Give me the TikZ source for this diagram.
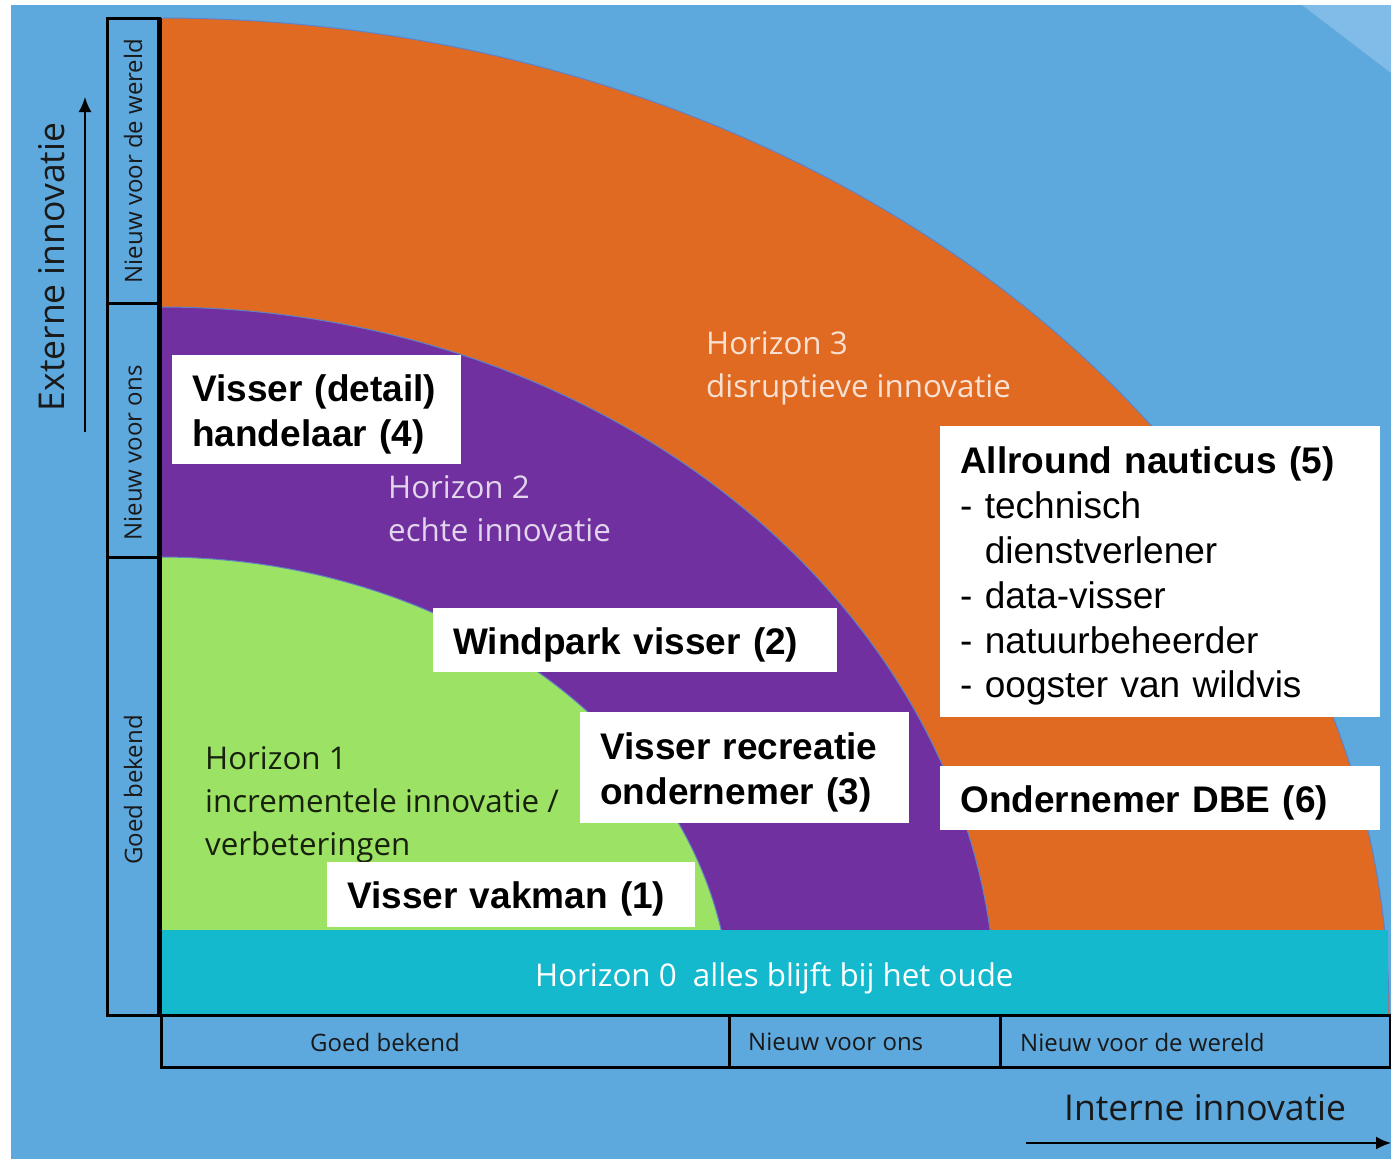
\documentclass[tikz,border=0pt]{standalone}
\usepackage{fontspec}
\setmainfont{Open Sans}
\newfontfamily\arialfont{Liberation Sans}
\usepackage{tikz}
\usetikzlibrary{arrows,arrows.meta}
\definecolor{skyblue}{HTML}{5DA8DC}
\definecolor{paleblue}{HTML}{80BCE7}
\definecolor{horange}{HTML}{E06A22}
\definecolor{hpurple}{HTML}{7030A0}
\definecolor{hgreen}{HTML}{9CE264}
\definecolor{hcyan}{HTML}{15B9CE}
\definecolor{rimblue}{HTML}{5F82C4}
\tikzset{
  horizon/.style=
  {
    draw=rimblue,
    line width=1pt
  },
  rolebox/.style=
  {
    fill=white,
    anchor=north west,
    align=left,
    inner xsep=20pt,
    inner ysep=0pt,
    execute at begin node={\rule{0pt}{36pt}},
    font=\arialfont\fontsize{37}{44.8}\selectfont
  },
  hlabel/.style=
  {
    anchor=base west,
    align=left,
    inner sep=0pt,
    font=\fontsize{31.3}{43}\selectfont
  },
  axisbox/.style=
  {
    draw=black,
    line width=3pt
  },
  axislabel/.style=
  {
    inner sep=0pt,
    text=black!90,
    font=\fontsize{24}{28}\selectfont
  },
  axistitle/.style=
  {
    inner sep=0pt,
    text=black!90,
    font=\fontsize{35.5}{42}\selectfont
  },
  axisarrow/.style=
  {
    line width=2pt,
    -{Latex[length=15pt,width=13pt]}
  }
}

\begin{document}
\begin{tikzpicture}[x=1pt, y=-1pt]
  \useasboundingbox (0,0) rectangle (1391,1159);
  \fill[white] (0,0) rectangle (1391,1159);
  \fill[skyblue] (11,5) rectangle (1391,1159);
  \fill[paleblue] (1302,5) -- (1391,5) -- (1391,73) -- cycle;

  \begin{scope}
    \clip (159,0) rectangle (1391,1015);
    \filldraw[horizon, fill=horange] (159,1015) ellipse [x radius=1230pt, y radius=997pt];
    \filldraw[horizon, fill=hpurple] (159,1015) ellipse [x radius=837pt, y radius=708pt];
    \filldraw[horizon, fill=hgreen] (159,1015) ellipse [x radius=572pt, y radius=458pt];
  \end{scope}
  \fill[hcyan] (159,930) rectangle (1388,1015);

  \node[hlabel, text=white, text opacity=.8] (h3) at (706,397) {Horizon 3\\disruptieve innovatie};
  \node[hlabel, text=white, text opacity=.8] (h2) at (388,541) {Horizon 2\\echte innovatie};
  \node[hlabel, text=black, text opacity=.85] (h1) at (205,855) {Horizon 1\\incrementele innovatie /\\verbeteringen};
  \node[hlabel, text=white] (h0) at (535,986) {Horizon 0\ \ alles blijft bij het oude};

  \node[rolebox, text width=249pt, minimum height=109pt] (detail) at (172,355) {\bfseries Visser (detail)\\handelaar (4)};
  \node[rolebox, text width=364pt, minimum height=64pt] (windpark) at (433,608) {\bfseries Windpark visser (2)};
  \node[rolebox, text width=289pt, minimum height=111pt] (recreatie) at (580,712) {\bfseries Visser recreatie\\ondernemer (3)};
  \node[rolebox, text width=328pt, minimum height=65pt] (vakman) at (327,862) {\bfseries Visser vakman (1)};
  \node[rolebox, text width=400pt, minimum height=291pt] (nauticus) at (940,426) {\textbf{Allround nauticus (5)}\\- technisch\\\phantom{- }dienstverlener\\- data-visser\\- natuurbeheerder\\- oogster van wildvis};
  \node[rolebox, text width=400pt, minimum height=64pt] (dbe) at (940,766) {\bfseries Ondernemer DBE (6)};

  \draw[line width=5pt] (159,18) -- (159,1015);
  \draw[axisbox] (107,18) rectangle (159,303);
  \draw[axisbox] (107,303) rectangle (159,557);
  \draw[axisbox] (107,557) rectangle (159,1015);
  \draw[axisbox] (161,1015) rectangle (729,1067);
  \draw[axisbox] (729,1015) rectangle (1000,1067);
  \draw[axisbox] (1000,1015) rectangle (1390,1067);

  \node[axislabel, rotate=90] (ywereld) at (133,161) {Nieuw voor de wereld};
  \node[axislabel, rotate=90] (yons) at (133,453) {Nieuw voor ons};
  \node[axislabel, rotate=90] (ybekend) at (133,790) {Goed bekend};
  \node[axislabel, anchor=west] (xbekend) at (310,1042) {Goed bekend};
  \node[axislabel, anchor=west] (xons) at (748,1042) {Nieuw voor ons};
  \node[axislabel, anchor=west] (xwereld) at (1020,1042) {Nieuw voor de wereld};

  \node[axistitle, rotate=90] (extern) at (52,267) {Externe innovatie};
  \node[axistitle, anchor=west] (intern) at (1064,1108) {Interne innovatie};
  \coordinate (ytail) at (85,432);
  \coordinate (yhead) at (85,97);
  \coordinate (xtail) at (1026,1143);
  \coordinate (xhead) at (1391,1143);
  \draw[axisarrow] (ytail) -- (yhead);
  \draw[axisarrow] (xtail) -- (xhead);
\end{tikzpicture}
\end{document}
